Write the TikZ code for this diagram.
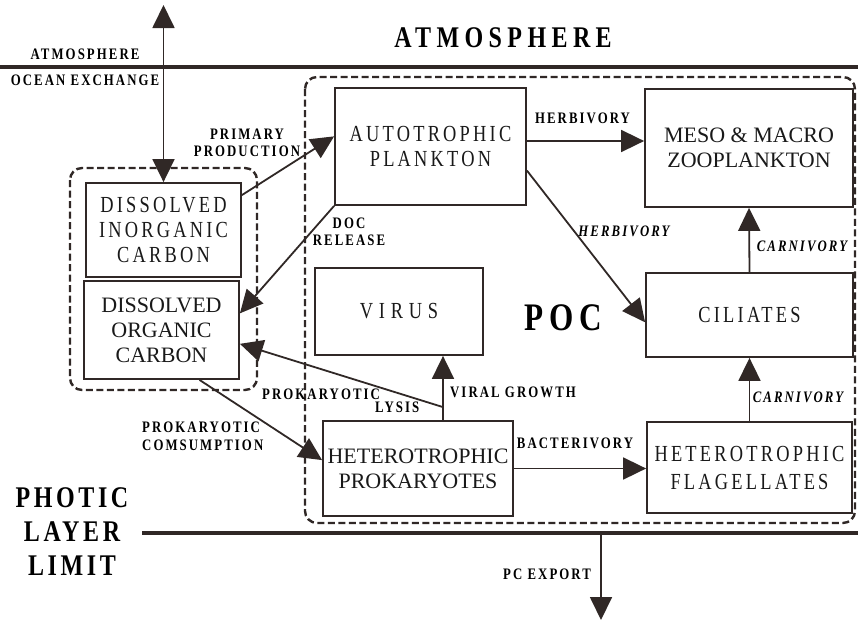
\documentclass[tikz,border=0pt]{standalone}
\usepackage{fontspec}
\setmainfont{Liberation Serif}
\newfontfamily\widefont[FakeStretch=0.8]{Liberation Serif}
\newfontfamily\plainfont{Liberation Serif}
\usetikzlibrary{arrows.meta}
\definecolor{ink}{RGB}{48,40,38}
\tikzstyle{compartment}=[draw=ink, line width=1.8pt, inner sep=0pt, align=center, text=black!90,
    font=\fontsize{23}{25}\widefont\addfontfeature{LetterSpace=14}]
\tikzstyle{plain}=[font=\fontsize{22}{25}\plainfont]
\tikzstyle{flux}=[draw=ink, line width=1.8pt, ->]
\tikzstyle{fluxlabel}=[inner sep=0pt, align=center, text=black,
    font=\fontsize{16}{17}\widefont\bfseries\addfontfeature{LetterSpace=13}]
\tikzstyle{group}=[draw=ink, line width=2.4pt, dash pattern=on 7pt off 3.5pt, rounded corners=12pt]
\tikzstyle{boundary}=[draw=ink, line width=3.5pt]
\newcommand{\compartment}{\node[compartment]}

\begin{document}
\begin{tikzpicture}[x=1pt, y=-1pt, >={Triangle[length=23pt,width=22pt]}]
\useasboundingbox (0,0) rectangle (858,621);
% layer limits
\draw[boundary] (0,67) -- (858,67);
\draw[boundary] (142,533) -- (858,533);
\node[text=black, font=\fontsize{30}{30}\widefont\bfseries\addfontfeature{LetterSpace=18}] (atmosphere) at (503,38) {ATMOSPHERE};
\node[text=black, align=center, font=\fontsize{30}{34}\widefont\bfseries\addfontfeature{LetterSpace=12}] (photic) at (72,532) {PHOTIC\\LAYER\\LIMIT};
\node[text=black, font=\fontsize{39}{39}\widefont\bfseries\addfontfeature{LetterSpace=15}] (poc) at (563,318) {POC};

% dissolved and particulate pools
\draw[group] (70,168) rectangle (257,390);
\draw[group] (305,77) rectangle (855,523);

\compartment[minimum width=155pt, minimum height=94pt] (dic) at (163.5,230) {DISSOLVED\\INORGANIC\\CARBON};
\compartment[plain, minimum width=155pt, minimum height=98pt] (doc) at (161.5,330) {DISSOLVED\\ORGANIC\\CARBON};
\compartment[minimum width=191pt, minimum height=117pt] (auto) at (430.5,146.5) {AUTOTROPHIC\\PLANKTON};
\compartment[plain, minimum width=208pt, minimum height=118pt] (zoo) at (749,148) {MESO \& MACRO\\ZOOPLANKTON};
\compartment[minimum width=168pt, minimum height=87pt, font=\fontsize{23}{25}\widefont\addfontfeature{LetterSpace=25}] (virus) at (399,311.5) {VIRUS};
\compartment[minimum width=207pt, minimum height=84pt] (cil) at (749.5,315) {CILIATES};
\compartment[plain, minimum width=190pt, minimum height=95pt] (hp) at (418,468.5) {HETEROTROPHIC\\PROKARYOTES};
\compartment[minimum width=205pt, minimum height=91pt, font=\fontsize{23}{28}\widefont\addfontfeature{LetterSpace=14}] (hf) at (749.5,467.5) {HETEROTROPHIC\\FLAGELLATES};

\coordinate (sky) at (163.5,5);
\coordinate (floor) at (601,533);
\coordinate (deep) at (601,620);
\coordinate (lysis) at ([xshift=25pt,yshift=13pt]hp.north);

% fluxes
\draw[flux, <->] (sky) -- (dic.north);
\draw[flux] (dic.24) -- (auto.174);
\draw[flux] (auto.south west) -- (doc.12);
\draw[flux] (auto.east |- 0,141) -- (zoo.west |- 0,141);
\draw[flux] (auto.-14) -- (cil.184);
\draw[flux] (cil.north) -- (zoo.south);
\draw[flux] (hf.north) -- (cil.south);
\draw[flux] (hp.east) -- (hp.east -| hf.west);
\draw[flux] ([xshift=38pt]doc.south) -- (hp.175);
\draw[flux] ([xshift=25pt]hp.north) -- ([xshift=25pt]hp.north |- virus.south);
\draw[flux] (lysis) -- (doc.-10);
\draw[flux] (floor) -- (deep);

% flux labels
\node[fluxlabel] (atmlab) at (85,54) {ATMOSPHERE};
\node[fluxlabel] (oceanlab) at (85,80) {OCEAN EXCHANGE};
\node[fluxlabel] (pplab) at (247,142.5) {PRIMARY\\PRODUCTION};
\node[fluxlabel] (doclab) at (349,231.5) {DOC\\RELEASE};
\node[fluxlabel, align=left, anchor=west, font=\fontsize{16}{13}\widefont\bfseries\addfontfeature{LetterSpace=13}] (lysislab) at (262,401) {PROKARYOTIC\\\hspace*{113pt}LYSIS};
\node[fluxlabel, align=left, anchor=west, font=\fontsize{16}{18}\widefont\bfseries\addfontfeature{LetterSpace=13}] (conslab) at (142,436.5) {PROKARYOTIC\\COMSUMPTION};
\node[fluxlabel] (virlab) at (513,392.5) {VIRAL GROWTH};
\node[fluxlabel] (baclab) at (575,443.5) {BACTERIVORY};
\node[fluxlabel] (herblab) at (582.5,118.5) {HERBIVORY};
\node[fluxlabel, font=\fontsize{16}{17}\widefont\bfseries\itshape\addfontfeature{LetterSpace=13}] (herbdiag) at (624,231) {HERBIVORY};
\node[fluxlabel, font=\fontsize{16}{17}\widefont\bfseries\itshape\addfontfeature{LetterSpace=13}] (carnup) at (802,246) {CARNIVORY};
\node[fluxlabel, font=\fontsize{16}{17}\widefont\bfseries\itshape\addfontfeature{LetterSpace=13}] (carnlow) at (798,397.5) {CARNIVORY};
\node[fluxlabel] (exportlab) at (547,574) {PC EXPORT};
\end{tikzpicture}
\end{document}
